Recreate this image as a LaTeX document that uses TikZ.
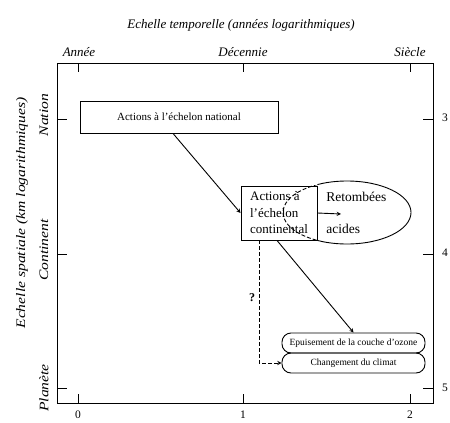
\documentclass[tikz,border=0pt]{standalone}
\usepackage{fontspec}
\setmainfont{Liberation Serif}
\usetikzlibrary{shapes.geometric}

\begin{document}
\begin{tikzpicture}[x=1pt, y=-1pt, line width=0.9pt, >=stealth,
  axlab/.style={font=\fontsize{13}{15}\selectfont\itshape},
  numlab/.style={font=\fontsize{11.5}{12}\selectfont},
  boxnode/.style={draw, rectangle, inner sep=2pt},
  pill/.style={draw, rectangle, rounded corners=9pt, minimum width=143pt, minimum height=20pt, font=\fontsize{9.5}{11}\selectfont}]
  \useasboundingbox (0,0) rectangle (450,423);

  % axes frame and ticks
  \draw (57,63) rectangle (433,403);
  \foreach \x in {78,243,410} {
    \draw (\x,63) -- (\x,72);
    \draw (\x,403) -- (\x,394);
  }
  \foreach \y in {119,254,388} {
    \draw (57,\y) -- (67,\y);
    \draw (433,\y) -- (423,\y);
  }

  % axis labels
  \node[axlab] (ttl) at (241,25) {Echelle temporelle (années logarithmiques)};
  \node[axlab] (yr) at (79,52) {Année};
  \node[axlab] (dec) at (243,52) {Décennie};
  \node[axlab] (cent) at (410,52) {Siècle};
  \node[axlab, rotate=90] (sttl) at (22,213) {\scalebox{1.2}[1]{Echelle spatiale (km logarithmiques)}};
  \node[axlab, rotate=90] (nat_l) at (44,115) {\scalebox{1.2}[1]{Nation}};
  \node[axlab, rotate=90] (cont_l) at (44,250) {\scalebox{1.2}[1]{Continent}};
  \node[axlab, rotate=90] (plan_l) at (44,388) {\scalebox{1.2}[1]{Planète}};
  \node[numlab] (b0) at (78,415) {0};
  \node[numlab] (b1) at (243,415) {1};
  \node[numlab] (b2) at (410,415) {2};
  \node[numlab] (r3) at (445,118) {3};
  \node[numlab] (r4) at (445,253) {4};
  \node[numlab] (r5) at (445,388) {5};

  % boxes
  \node[boxnode, minimum width=198pt, minimum height=32pt, font=\fontsize{11}{13}\selectfont] (nat) at (179,117) {Actions à l'échelon national};
  \node[boxnode, minimum width=76pt, minimum height=54pt, align=left, font=\fontsize{13}{16.5}\selectfont] (cont) at (279,213) {Actions à\\l'échelon\\continental};
  \node[ellipse, minimum width=128pt, minimum height=63pt] (acid) at (347,212.5) {};
  \node[anchor=west, align=left, inner sep=0pt, font=\fontsize{13.5}{32}\selectfont] (acidtxt) at (326,213) {Retombées\\acides};
  \coordinate (tip) at (341,214);

  \begin{scope}
    \clip (cont.east |- 0,170) rectangle (440,260);
    \draw (acid.center) ellipse [x radius=64, y radius=31.5];
  \end{scope}
  \begin{scope}
    \clip (cont.south west) rectangle (cont.north east);
    \draw[dash pattern=on 4pt off 2pt] (acid.center) ellipse [x radius=64, y radius=31.5];
  \end{scope}

  \node[pill] (ozone) at (353.5,343) {Epuisement de la couche d'ozone};
  \node[pill] (clim) at (353.5,363) {Changement du climat};

  % connectors
  \draw[->] ([xshift=-6pt]nat.south) -- (cont.west);
  \draw[->] (cont.east) -- (tip);
  \draw[->] ([xshift=-2pt]cont.south) -- (ozone.north);
  \draw[->, dash pattern=on 4pt off 2pt] ([xshift=-20pt]cont.south) |- (clim.west);
  \node[font=\fontsize{12}{12}\selectfont\bfseries] (qm) at (252,298) {?};
\end{tikzpicture}
\end{document}
